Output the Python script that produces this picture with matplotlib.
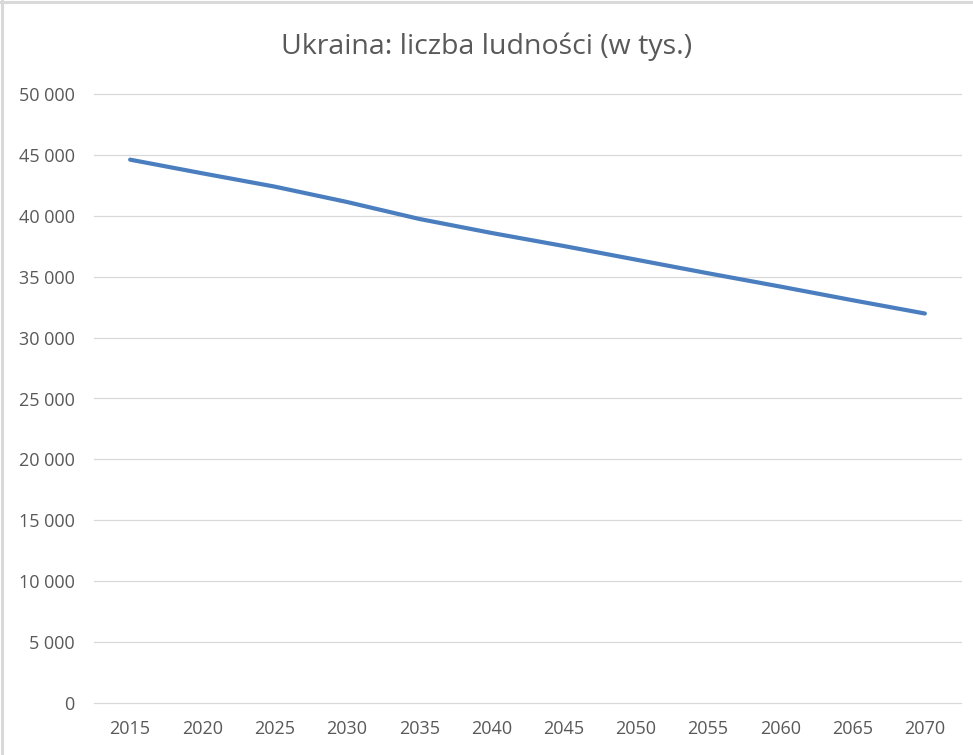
import matplotlib
matplotlib.use("Agg")
import matplotlib.pyplot as plt
import matplotlib.ticker as mticker
from matplotlib.lines import Line2D

plt.rcParams['font.family'] = ['Open Sans', 'DejaVu Sans']

years = ["2015", "2020", "2025", "2030", "2035", "2040",
         "2045", "2050", "2055", "2060", "2065", "2070"]
population = [44590, 43470, 42380, 41120, 39730, 38580,
              37510, 36390, 35270, 34180, 33060, 31970]
title = "Ukraina: liczba ludności (w tys.)"

grey_txt = "#595959"

fig = plt.figure(figsize=(9.73, 7.55), dpi=100)
ax = fig.add_axes([94/973, 1 - 703.3/755, (961 - 94)/973, (703.3 - 93.7)/755])

x = list(range(len(years)))
ax.plot(x, population, color="#4A7EBF", lw=3, solid_capstyle="round", zorder=3)

ax.set_xlim(-0.5, len(years) - 0.5)
ax.set_ylim(0, 50000)
ax.set_yticks(range(0, 50001, 5000))
ax.yaxis.set_major_formatter(mticker.FuncFormatter(lambda v, p: f"{v:,.0f}".replace(",", " ")))
ax.set_xticks(x)
ax.set_xticklabels(years)

ax.grid(axis="y", color="#D9D9D9", lw=0.9)
for gl in ax.get_ygridlines():
    gl.set_clip_on(False)
ax.set_axisbelow(True)
for s in ax.spines.values():
    s.set_visible(False)
ax.tick_params(axis="both", length=0, labelsize=13, colors=grey_txt)
ax.tick_params(axis="y", pad=14)
ax.tick_params(axis="x", pad=12)

fig.text(0.5, 0.938, title, ha="center", va="center", fontsize=20.5, color=grey_txt)

# chart frame (left and top edges visible)
fig.add_artist(Line2D([1.5/973, 1.5/973], [0, 1], color="#D9D9D9", lw=2.2, transform=fig.transFigure))
fig.add_artist(Line2D([0, 1], [1 - 2/755, 1 - 2/755], color="#D9D9D9", lw=2.2, transform=fig.transFigure))

fig.savefig("out.png", dpi=100)
